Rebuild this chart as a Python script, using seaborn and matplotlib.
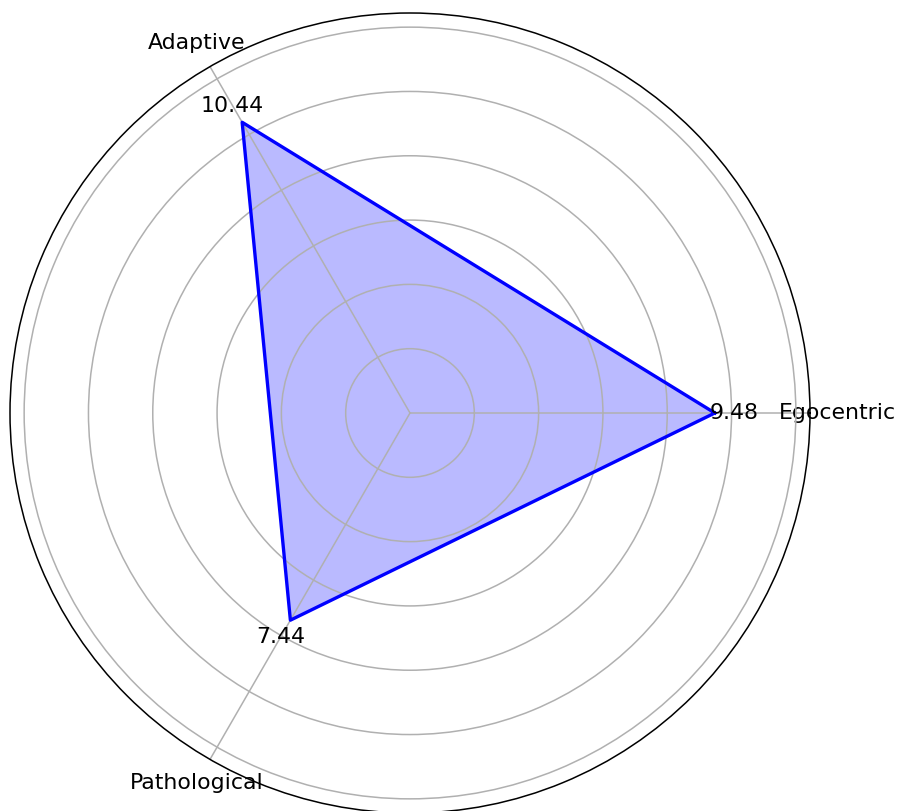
import numpy as np
import seaborn as sns
import matplotlib.pyplot as plt

categories = ['Egocentric', 'Adaptive', 'Pathological']
scores = [9.48, 10.44, 7.44]

n = len(categories)
angles = [i * 2 * np.pi / n for i in range(n)]
angles_closed = angles + [2 * np.pi]
scores_closed = scores + [scores[0]]

fig = plt.figure(figsize=[8.99, 8.11], dpi=100)
ax = fig.add_axes([10 / 899, -2 / 811, 800 / 899, 800 / 811], projection='polar')  # [left, bottom, width, height]

# outline + fill
sns.lineplot(x=angles_closed, y=scores_closed, ax=ax, color='blue', linewidth=2.4, sort=False)
ax.fill(angles_closed, scores_closed, color='blue', alpha=0.27)

ax.set_ylim(0, max(scores) + 2)
ax.set_yticks([2, 4, 6, 8, 10, 12])
ax.set_yticklabels([])
ax.set_xticks(angles)
ax.set_xticklabels(categories, fontsize=15.8)
ax.tick_params(axis='x', pad=9)
ax.grid(True, color='#b0b0b0', linewidth=1.1)
ax.spines['polar'].set_linewidth(1.1)
ax.set_xlabel('')
ax.set_ylabel('')

# value labels
for a, v in zip(angles, scores):
    ax.text(a, v + 0.6, f'{v:.2f}', fontsize=15.8, ha='center', va='center')

plt.savefig('out.png', dpi=100)
plt.close()
